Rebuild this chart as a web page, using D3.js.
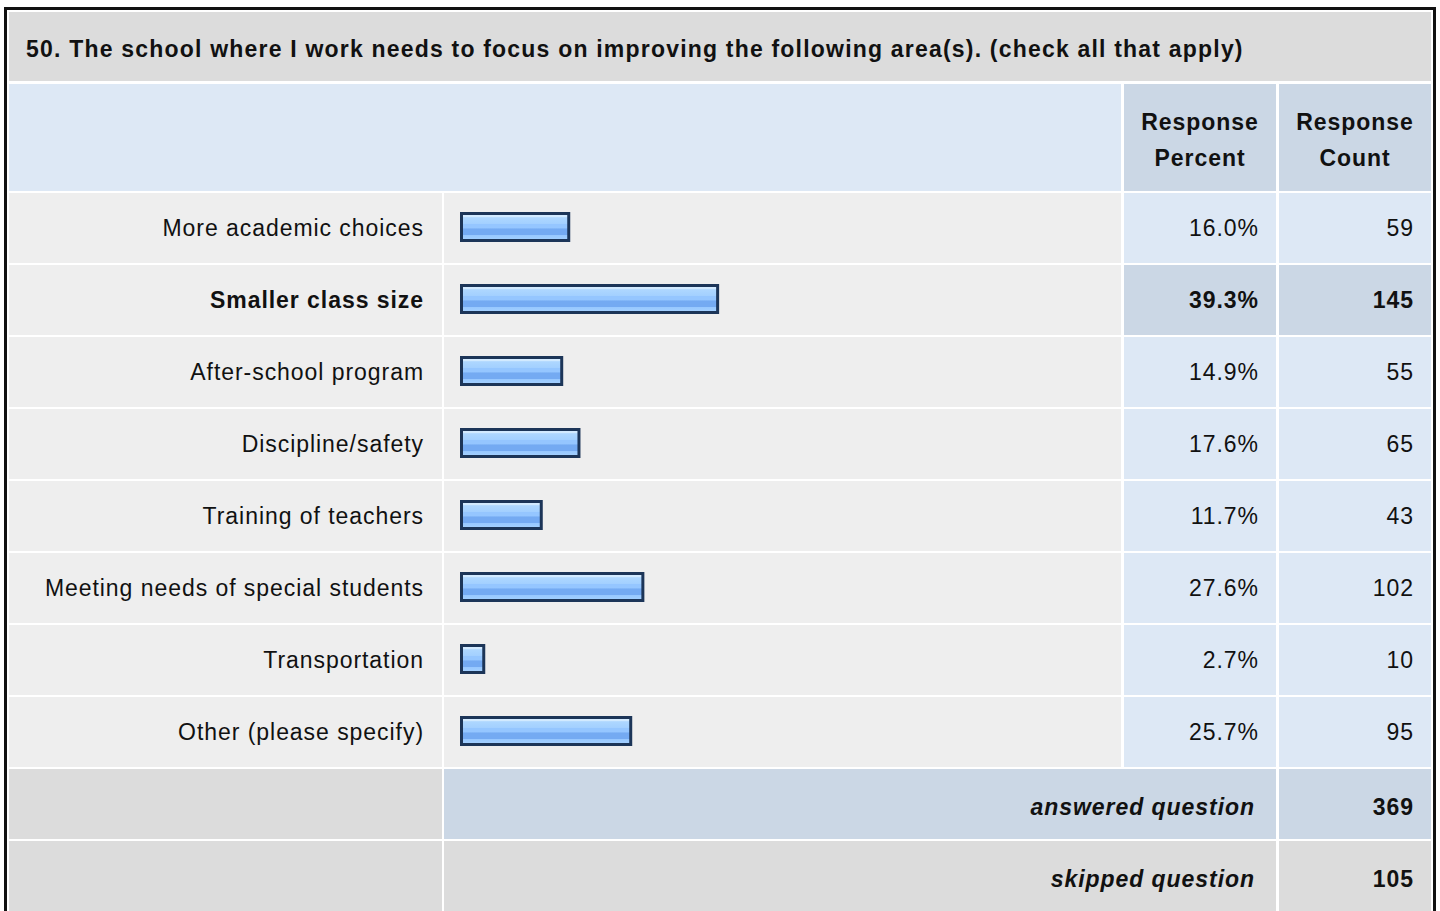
<!DOCTYPE html>
<html>
<head>
<meta charset="utf-8">
<script src="https://cdn.jsdelivr.net/npm/d3@7"></script>
<style>
  html, body { margin: 0; padding: 0; background: #ffffff; }
  svg { display: block; }
  text { font-family: "Liberation Sans", Arial, Helvetica, sans-serif; fill: #111; }
</style>
</head>
<body>
<svg id="chart" width="1440" height="911"></svg>
<script>
// ---- Data ----
const title = "50. The school where I work needs to focus on improving the following area(s). (check all that apply)";
const categories = [
  "More academic choices",
  "Smaller class size",
  "After-school program",
  "Discipline/safety",
  "Training of teachers",
  "Meeting needs of special students",
  "Transportation",
  "Other (please specify)"
];
const percents = [16.0, 39.3, 14.9, 17.6, 11.7, 27.6, 2.7, 25.7];
const counts = [59, 145, 55, 65, 43, 102, 10, 95];
const headerPercent = ["Response", "Percent"];
const headerCount = ["Response", "Count"];
const answeredLabel = "answered question";
const skippedLabel = "skipped question";
const answered = 369;
const skipped = 105;

// ---- Layout ----
const svg = d3.select("#chart");
const LS = "0.95px";
const FS = "23px";

const col = {
  labelX0: 9, labelX1: 442,
  barX0: 444, barX1: 1121,
  pctX0: 1124, pctX1: 1276,
  cntX0: 1279, cntX1: 1431
};
const rowTop0 = 193, rowStep = 72, rowH = 70;
const maxIdx = counts.indexOf(d3.max(counts));

const C = {
  title: "#dcdcdc",
  headLight: "#dde8f5",
  headDark: "#cbd7e5",
  cell: "#eeeeee",
  grey: "#dcdcdc"
};

// gradient for bars
const defs = svg.append("defs");
const grad = defs.append("linearGradient").attr("id", "barGrad")
  .attr("x1", 0).attr("y1", 0).attr("x2", 0).attr("y2", 1);
[[0, "#d2eaff"], [0.14, "#d2eaff"], [0.15, "#aed7ff"], [0.38, "#a3d0ff"], [0.39, "#95c6ff"],
 [0.55, "#95c6ff"], [0.56, "#74aaf2"], [0.78, "#74aaf2"], [0.79, "#96c7ff"], [1, "#a6d2ff"]]
  .forEach(([o, c]) => grad.append("stop").attr("offset", o).attr("stop-color", c));

// outer border
svg.append("rect").attr("x", 5.5).attr("y", 8.5).attr("width", 1429).attr("height", 920)
  .attr("fill", "#ffffff").attr("stroke", "#111").attr("stroke-width", 3);

function cell(x0, x1, y, h, fill) {
  svg.append("rect").attr("x", x0).attr("y", y).attr("width", x1 - x0).attr("height", h).attr("fill", fill);
}

// title row
cell(col.labelX0, col.cntX1, 12, 69, C.title);
svg.append("text").attr("x", 26).attr("y", 57)
  .attr("font-size", "23px").attr("font-weight", "bold").attr("letter-spacing", "1.2px")
  .text(title);

// header row
cell(col.labelX0, col.barX1, 84, 107, C.headLight);
cell(col.pctX0, col.pctX1, 84, 107, C.headDark);
cell(col.cntX0, col.cntX1, 84, 107, C.headDark);
[[headerPercent, (col.pctX0 + col.pctX1) / 2], [headerCount, (col.cntX0 + col.cntX1) / 2]].forEach(([lines, cx]) => {
  lines.forEach((t, i) => {
    svg.append("text").attr("x", cx).attr("y", 130 + i * 36)
      .attr("text-anchor", "middle").attr("font-size", FS).attr("font-weight", "bold")
      .attr("letter-spacing", LS).text(t);
  });
});

// scale for bars
const x = d3.scaleLinear().domain([0, 100]).range([0, 639]);

const rows = categories.map((c, i) => ({ c, p: percents[i], n: counts[i], i }));
const g = svg.append("g");
const rowG = g.selectAll("g.row").data(rows).join("g").attr("class", "row")
  .attr("transform", d => `translate(0,${rowTop0 + d.i * rowStep})`);

rowG.append("rect").attr("x", col.labelX0).attr("width", col.labelX1 - col.labelX0).attr("height", rowH).attr("fill", C.cell);
rowG.append("rect").attr("x", col.barX0).attr("width", col.barX1 - col.barX0).attr("height", rowH).attr("fill", C.cell);
rowG.append("rect").attr("x", col.pctX0).attr("width", col.pctX1 - col.pctX0).attr("height", rowH)
  .attr("fill", d => d.i === maxIdx ? C.headDark : C.headLight);
rowG.append("rect").attr("x", col.cntX0).attr("width", col.cntX1 - col.cntX0).attr("height", rowH)
  .attr("fill", d => d.i === maxIdx ? C.headDark : C.headLight);

rowG.append("rect").attr("class", "bar")
  .attr("x", 461.5).attr("y", 20.5)
  .attr("width", d => x(d.p) + 5).attr("height", 27)
  .attr("fill", "url(#barGrad)").attr("stroke", "#1c3558").attr("stroke-width", 3);

const fw = d => d.i === maxIdx ? "bold" : "normal";
rowG.append("text").attr("x", 424).attr("y", 43).attr("text-anchor", "end")
  .attr("font-size", FS).attr("letter-spacing", LS).attr("font-weight", fw).text(d => d.c);
rowG.append("text").attr("x", 1259).attr("y", 43).attr("text-anchor", "end")
  .attr("font-size", FS).attr("letter-spacing", LS).attr("font-weight", fw).text(d => d.p.toFixed(1) + "%");
rowG.append("text").attr("x", 1414).attr("y", 43).attr("text-anchor", "end")
  .attr("font-size", FS).attr("letter-spacing", LS).attr("font-weight", fw).text(d => d.n);

// summary rows
const sumTop = rowTop0 + categories.length * rowStep;
const summary = [
  { label: answeredLabel, v: answered, mid: C.headDark, right: C.headDark },
  { label: skippedLabel, v: skipped, mid: C.grey, right: C.grey }
];
summary.forEach((s, k) => {
  const y = sumTop + k * rowStep;
  cell(col.labelX0, col.labelX1, y, rowH + (k === 1 ? 40 : 0), C.grey);
  cell(col.barX0, col.pctX1, y, rowH + (k === 1 ? 40 : 0), s.mid);
  cell(col.cntX0, col.cntX1, y, rowH + (k === 1 ? 40 : 0), s.right);
  svg.append("text").attr("x", 1255).attr("y", y + 46).attr("text-anchor", "end")
    .attr("font-size", FS).attr("font-weight", "bold").attr("font-style", "italic")
    .attr("letter-spacing", LS).text(s.label);
  svg.append("text").attr("x", 1414).attr("y", y + 46).attr("text-anchor", "end")
    .attr("font-size", FS).attr("font-weight", "bold")
    .attr("letter-spacing", LS).text(s.v);
});
</script>
</body>
</html>
